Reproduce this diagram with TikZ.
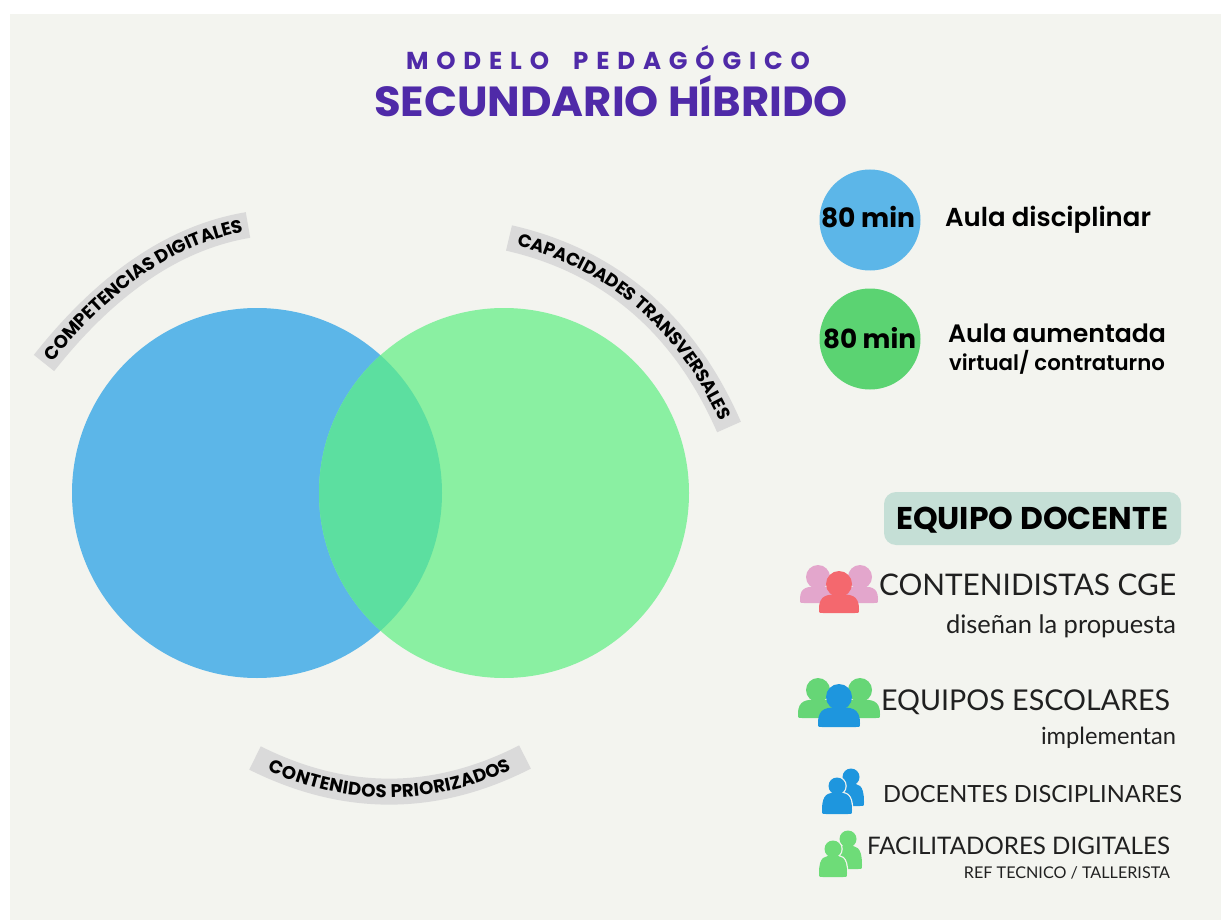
\documentclass[tikz,border=0pt]{standalone}
\usepackage{fontspec}
\usepackage{graphicx}
\setmainfont{Lato}
\newfontfamily\heavy{Poppins Bold}
\newfontfamily\semi{Poppins SemiBold}
\usetikzlibrary{decorations.text}
\definecolor{panel}{HTML}{F3F4EF}
\definecolor{bigblue}{HTML}{5CB6E8}
\definecolor{biggreen}{HTML}{8AF0A2}
\definecolor{overlap}{HTML}{5CDFA0}
\definecolor{midgreen}{HTML}{5BD372}
\definecolor{band}{HTML}{DADADA}
\definecolor{violet}{HTML}{4F2AA8}
\definecolor{mint}{HTML}{C5DFD6}
\definecolor{ink}{HTML}{202020}
\definecolor{pinkb}{HTML}{E3A6CC}
\definecolor{redp}{HTML}{F4686E}
\definecolor{greenb}{HTML}{66D676}
\definecolor{bluep}{HTML}{1E96DE}
\definecolor{greenf}{HTML}{6EDC78}
\tikzset{
  x=1pt,y=-1pt,
  txt/.style={inner sep=0pt,outer sep=0pt,text=ink},
  lbl/.style={txt,anchor=base west},
  lblr/.style={txt,anchor=base east},
  blk/.style={inner sep=0pt,outer sep=0pt,text=black,anchor=base west},
  bandline/.style={draw=band,line width=26pt,line cap=butt},
}
\newcommand{\fitw}[2]{\resizebox{#1pt}{!}{#2}}
% x, y (head centre), head radius, half width, bottom offset, colour
\newcommand{\person}[6]{%
  \fill[#6] (#1,#2) circle (#3);
  \fill[#6] ({#1-#4},{#2+#5-4}) .. controls ({#1-#4},{#2+#3*0.8}) and ({#1-#4*0.55},{#2+#3*0.8}) .. (#1,{#2+#3*0.8})
    .. controls ({#1+#4*0.55},{#2+#3*0.8}) and ({#1+#4},{#2+#3*0.8}) .. ({#1+#4},{#2+#5-4})
    .. controls ({#1+#4},{#2+#5}) and ({#1+#4},{#2+#5}) .. ({#1+#4-4},{#2+#5})
    -- ({#1-#4+4},{#2+#5})
    .. controls ({#1-#4},{#2+#5}) and ({#1-#4},{#2+#5}) .. cycle;}
% halo person for overlapping figures
\newcommand{\halop}[6]{%
  \begin{scope}[panel,line width=2.5pt]
  \draw (#1,#2) circle (#3);
  \draw ({#1-#4},{#2+#5-4}) .. controls ({#1-#4},{#2+#3*0.8}) and ({#1-#4*0.55},{#2+#3*0.8}) .. (#1,{#2+#3*0.8})
    .. controls ({#1+#4*0.55},{#2+#3*0.8}) and ({#1+#4},{#2+#3*0.8}) .. ({#1+#4},{#2+#5-4});
  \end{scope}
  \person{#1}{#2}{#3}{#4}{#5}{#6}}
\begin{document}
\begin{tikzpicture}
\useasboundingbox (0,0) rectangle (1221,920);
\fill[white] (0,0) rectangle (1221,920);
\fill[panel] (10,14) rectangle (1221,920);

% Title
\node[txt,text=violet,anchor=base west] (t1) at (406,69.5) {\fitw{404}{\heavy\addfontfeatures{LetterSpace=32}\fontsize{25}{30}\selectfont MODELO\hspace{0.45em} PEDAGÓGICO}};
\node[txt,text=violet,anchor=base west] (t2) at (374,116.5) {\scalebox{1}[0.97]{\fitw{474}{\heavy\fontsize{42}{50}\selectfont SECUNDARIO HÍBRIDO}}};

% Venn
\fill[bigblue] (257,493) circle (185);
\fill[biggreen] (504,493) circle (185);
\begin{scope}
  \clip (257,493) circle (185);
  \fill[overlap] (504,493) circle (185);
\end{scope}

% Curved labels
\path[bandline] (44,363) .. controls (108,282) and (176,237) .. (248,225);
\path[decorate,decoration={text along path,text align=center,raise=-6pt,
  text={|\heavy\fontsize{18.2}{20}\selectfont\color{black}|COMPETENCIAS DIGITALES}}]
  (44,363) .. controls (108,282) and (176,237) .. (248,225);

\path[bandline] (509,238) .. controls (610,261) and (684,324) .. (729,427);
\path[decorate,decoration={text along path,text align=center,raise=-6pt,
  text={|\heavy\fontsize{18}{20}\selectfont\color{black}|CAPACIDADES TRANSVERSALES}}]
  (509,238) .. controls (610,261) and (684,324) .. (729,427);

\path[bandline] (255,758) .. controls (345,803) and (435,803) .. (525,757);
\path[decorate,decoration={text along path,text align=center,raise=-6pt,
  text={|\heavy\fontsize{18.2}{20}\selectfont\color{black}|CONTENIDOS PRIORIZADOS}}]
  (255,758) .. controls (345,803) and (435,803) .. (525,757);

% Legend
\fill[bigblue] (870,220) circle (50.5);
\node[blk] (m1) at (821,228) {\fitw{94}{\heavy\fontsize{28}{32}\selectfont 80 min}};
\node[lbl,text=black] (a1) at (945,227) {\fitw{206}{\semi\fontsize{27}{32}\selectfont Aula disciplinar}};
\fill[midgreen] (870,339) circle (50.5);
\node[blk] (m2) at (823,348) {\fitw{93}{\heavy\fontsize{28}{32}\selectfont 80 min}};
\node[lbl,text=black] (a2) at (948,342) {\fitw{218}{\semi\fontsize{27}{32}\selectfont Aula aumentada}};
\node[lbl,text=black] (a3) at (949,370) {\fitw{216}{\semi\fontsize{21}{26}\selectfont virtual/ contraturno}};

% Equipo docente
\fill[mint,rounded corners=12pt] (884,492) rectangle (1181,545);
\node[blk] (eq) at (896,529) {\fitw{272}{\heavy\fontsize{29}{34}\selectfont EQUIPO DOCENTE}};

% People
\person{818}{577}{12}{18}{26}{pinkb}
\person{860}{577}{12}{18}{26}{pinkb}
\person{839}{584}{13}{20}{29}{redp}
\node[lbl] (c1) at (879,595) {\fitw{297}{\fontsize{28}{32}\selectfont CONTENIDISTAS CGE}};
\node[lblr] (c2) at (1176,633) {\fitw{230}{\fontsize{23}{28}\selectfont diseñan la propuesta}};

\person{818}{690}{12}{20}{28}{greenb}
\person{860}{690}{12}{20}{28}{greenb}
\person{839}{697}{13}{21}{30}{bluep}
\node[lbl] (e1) at (881,710) {\fitw{289}{\fontsize{28}{32}\selectfont EQUIPOS ESCOLARES}};
\node[lblr] (e2) at (1176,744) {\fitw{135}{\fontsize{23}{28}\selectfont implementan}};

\person{851}{777}{8.5}{13}{29}{bluep}
\halop{837}{786}{8.5}{15}{28}{bluep}
\node[lbl] (d1) at (883,802) {\fitw{299}{\fontsize{22}{26}\selectfont DOCENTES DISCIPLINARES}};

\person{848}{839}{8.5}{14}{30}{greenf}
\halop{833}{849}{8.5}{14}{28}{greenf}
\node[lbl] (f1) at (867,854) {\fitw{303}{\fontsize{22}{26}\selectfont FACILITADORES DIGITALES}};
\node[lblr] (f2) at (1170,878) {\fitw{206}{\fontsize{14}{17}\selectfont REF TECNICO / TALLERISTA}};
\end{tikzpicture}
\end{document}
